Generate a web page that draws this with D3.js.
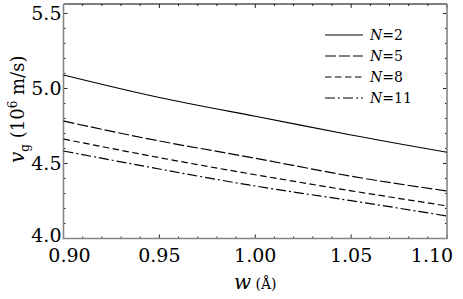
<!DOCTYPE html>
<html>
<head>
<meta charset="utf-8">
<script src="https://cdn.jsdelivr.net/npm/d3@7"></script>
<style>
  body { margin: 0; background: #fff; }
  text { font-family: "DejaVu Serif", "Liberation Serif", serif; }
</style>
</head>
<body>
<div id="chart"></div>
<script>
// w in angstrom, group velocity in 10^6 m/s
const wValues = [0.90, 0.95, 1.00, 1.05, 1.10];
const vN2  = [5.090, 4.940, 4.815, 4.690, 4.575];
const vN5  = [4.783, 4.650, 4.535, 4.415, 4.317];
const vN8  = [4.663, 4.539, 4.425, 4.318, 4.217];
const vN11 = [4.583, 4.463, 4.350, 4.252, 4.150];
const xTicks = [0.90, 0.95, 1.00, 1.05, 1.10];
const yTicks = [4.0, 4.5, 5.0, 5.5];

const series = [
    { n: "2", values: vN2, dash: null },
    { n: "5", values: vN5, dash: "11,3" },
    { n: "8", values: vN8, dash: "6.5,3.5" },
    { n: "11", values: vN11, dash: "10,3,2,3" }
];

const W = 463, H = 299;
const margin = { top: 4, right: 16, bottom: 60.5, left: 63.5 },
    width = W - margin.left - margin.right,
    height = H - margin.top - margin.bottom;

const svg = d3.select("#chart")
    .append("svg")
    .attr("width", W)
    .attr("height", H);

const g = svg.append("g")
    .attr("transform", `translate(${margin.left},${margin.top})`);

const x = d3.scaleLinear().domain([0.90, 1.10]).range([0, width]);
const y = d3.scaleLinear().domain([4.0, 5.563]).range([height, 0]);

// minor + major ticks, drawn inward on all four sides
const xMinor = d3.range(0.90, 1.1001, 0.01);
const yMinor = d3.range(4.0, 5.56, 0.1);
const tickCol = "#222";

function isMajor(v, list) { return list.some(t => Math.abs(t - v) < 1e-6); }

xMinor.forEach(v => {
    const len = isMajor(v, xTicks) ? 4 : 2;
    g.append("line").attr("x1", x(v)).attr("x2", x(v))
        .attr("y1", height).attr("y2", height - len)
        .attr("stroke", tickCol).attr("stroke-width", 1);
    g.append("line").attr("x1", x(v)).attr("x2", x(v))
        .attr("y1", 0).attr("y2", len)
        .attr("stroke", tickCol).attr("stroke-width", 1);
});
yMinor.forEach(v => {
    const len = isMajor(v, yTicks) ? 4 : 2;
    g.append("line").attr("y1", y(v)).attr("y2", y(v))
        .attr("x1", 0).attr("x2", len)
        .attr("stroke", tickCol).attr("stroke-width", 1);
    g.append("line").attr("y1", y(v)).attr("y2", y(v))
        .attr("x1", width).attr("x2", width - len)
        .attr("stroke", tickCol).attr("stroke-width", 1);
});

// frame: top black, others gray
g.append("line").attr("x1", 0).attr("x2", width).attr("y1", 0).attr("y2", 0)
    .attr("stroke", "#000").attr("stroke-width", 1);
g.append("path")
    .attr("d", `M0,0V${height}H${width}V0`)
    .attr("fill", "none").attr("stroke", "#858585").attr("stroke-width", 1.6);

// tick labels (edge labels nudged inward, as in the original)
const nx = xTicks.length;
g.selectAll(".xl").data(xTicks).enter().append("text")
    .attr("x", (d, i) => x(d) + (i === 0 ? 6 : i === nx - 1 ? -15 : 0))
    .attr("y", height + 23)
    .attr("text-anchor", "middle")
    .attr("font-size", 19)
    .text(d => d.toFixed(2));
g.selectAll(".yl").data(yTicks).enter().append("text")
    .attr("x", -2).attr("y", (d, i) => y(d) + 7 + (i === 0 ? -4 : 0))
    .attr("text-anchor", "end")
    .attr("font-size", 19)
    .text(d => d.toFixed(1));

// curves
const line = d3.line()
    .x((d, i) => x(wValues[i]))
    .y(d => y(d))
    .curve(d3.curveNatural);

series.forEach(s => {
    g.append("path")
        .datum(s.values)
        .attr("d", line)
        .attr("fill", "none")
        .attr("stroke", "#000")
        .attr("stroke-width", 1.2)
        .attr("stroke-dasharray", s.dash);
});

// legend
const leg = svg.append("g").attr("transform", "translate(325,35)");
series.forEach((s, i) => {
    const row = leg.append("g").attr("transform", `translate(0,${i * 21})`);
    row.append("line").attr("x1", 0).attr("x2", 38).attr("y1", 0).attr("y2", 0)
        .attr("stroke", "#000").attr("stroke-width", 1.2)
        .attr("stroke-dasharray", s.dash);
    const t = row.append("text").attr("x", 45).attr("y", 5).attr("font-size", 14);
    t.append("tspan").attr("font-style", "italic").text("N");
    t.append("tspan").text("=" + s.n);
});

// axis labels
const xl = svg.append("text")
    .attr("x", margin.left + width / 2)
    .attr("y", 289)
    .attr("text-anchor", "middle");
xl.append("tspan").attr("font-style", "italic").attr("font-size", 20).text("w");
xl.append("tspan").attr("font-size", 14).text(" (Å)");

const yl = svg.append("text")
    .attr("transform", `translate(24,${margin.top + height / 2 - 12}) rotate(-90)`)
    .attr("text-anchor", "middle")
    .attr("font-size", 18);
yl.append("tspan").attr("font-style", "italic").attr("font-size", 20).text("v");
yl.append("tspan").attr("font-size", 12).attr("dy", 5).text("g");
yl.append("tspan").attr("dy", -5).text(" (10");
yl.append("tspan").attr("font-size", 12).attr("dy", -7).text("6");
yl.append("tspan").attr("dy", 7).text(" m/s)");
</script>
</body>
</html>
